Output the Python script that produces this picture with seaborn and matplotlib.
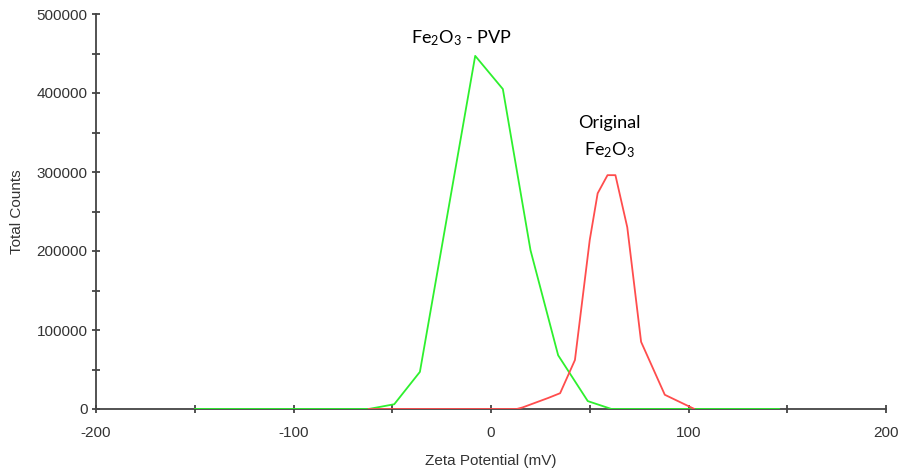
import matplotlib
matplotlib.use("Agg")
import matplotlib.pyplot as plt
from matplotlib.ticker import MultipleLocator
import seaborn as sns
import pandas as pd

# Data
pvp_x = [-150, -62, -49, -36, -8, 6, 20, 34, 49, 61, 146]
pvp_y = [0, 0, 6000, 47000, 447000, 405000, 201000, 68000, 10000, 0, 0]

orig_x = [-62, 13, 16, 29, 35, 42.5, 50, 54, 59, 63, 69, 76, 88, 103]
orig_y = [0, 0, 2000, 14000, 20000, 62000, 214000, 273000, 296000, 296000, 230000, 85000, 18000, 0]

x_ticks = [-200, -100, 0, 100, 200]
y_ticks = [0, 100000, 200000, 300000, 400000, 500000]

sns.set_style("white")
plt.rcParams["font.family"] = ["Liberation Sans", "DejaVu Sans"]
plt.rcParams["mathtext.default"] = "regular"

fig = plt.figure(figsize=(8.99, 4.72), dpi=100)
ax = fig.add_axes([96/899, 1-409/472, 790/899, 395/472])

df_pvp = pd.DataFrame({"x": pvp_x, "y": pvp_y})
df_orig = pd.DataFrame({"x": orig_x, "y": orig_y})
sns.lineplot(data=df_pvp, x="x", y="y", ax=ax, color="#2ef02e", lw=1.3, estimator=None, sort=False, zorder=3)
sns.lineplot(data=df_orig, x="x", y="y", ax=ax, color="#ff4d4d", lw=1.3, estimator=None, sort=False, zorder=4)

ax.set_xlim(-200, 200)
ax.set_ylim(0, 500000)
ax.set_xticks(x_ticks)
ax.set_yticks(y_ticks)
ax.xaxis.set_minor_locator(MultipleLocator(50))
ax.yaxis.set_minor_locator(MultipleLocator(50000))
ax.set_xticklabels([str(v) for v in x_ticks])
ax.set_yticklabels([str(v) for v in y_ticks])

for side in ["top", "right"]:
    ax.spines[side].set_visible(False)
for side in ["left", "bottom"]:
    ax.spines[side].set_color("#444444")
    ax.spines[side].set_linewidth(1.3)
    ax.spines[side].set_zorder(2)

ax.tick_params(which="both", direction="inout", length=6, width=1.3, color="#444444",
               labelsize=11, labelcolor="#333333")
ax.tick_params(axis="x", which="both", bottom=True, pad=9)
ax.tick_params(axis="y", which="both", left=True, pad=3)

ax.set_xlabel("Zeta Potential (mV)", fontsize=11, color="#333333", labelpad=10)
ax.set_ylabel("Total Counts", fontsize=11, color="#333333", labelpad=9)

ax.text(-15, 470000, r"Fe$_2$O$_3$ - PVP", ha="center", va="center", fontsize=13,
        family=["Lato", "DejaVu Sans"], color="black")
ax.text(60, 362000, "Original", ha="center", va="center", fontsize=13,
        family=["Lato", "DejaVu Sans"], color="black")
ax.text(60, 328000, r"Fe$_2$O$_3$", ha="center", va="center", fontsize=13,
        family=["Lato", "DejaVu Sans"], color="black")

fig.savefig("out.png", dpi=100)
